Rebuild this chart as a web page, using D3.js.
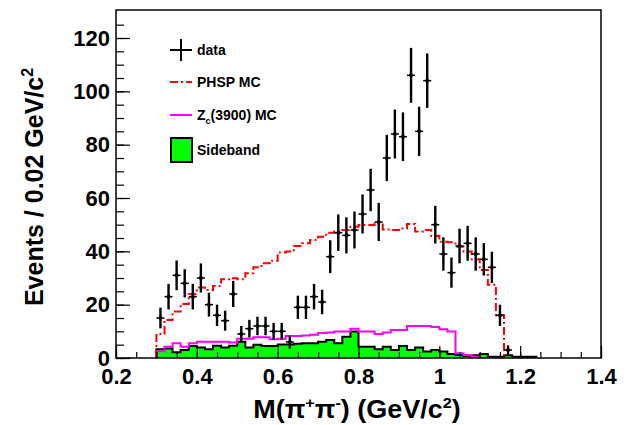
<!DOCTYPE html>
<html>
<head>
<meta charset="utf-8">
<script src="https://cdn.jsdelivr.net/npm/d3@7"></script>
<style>
  body { margin: 0; background: #fff; }
  svg { display: block; font-family: "Liberation Sans", Arial, sans-serif; }
</style>
</head>
<body>
<svg id="chart"></svg>
<script>
// binning (GeV/c^2)
const binWidth = 0.02;

// data points: bin centres and counts
const dataMass = [0.31, 0.33, 0.35, 0.37, 0.39, 0.41, 0.43, 0.45, 0.47, 0.49,
  0.51, 0.53, 0.55, 0.57, 0.59, 0.61, 0.63, 0.65, 0.67, 0.69,
  0.71, 0.73, 0.75, 0.77, 0.79, 0.81, 0.83, 0.85, 0.87, 0.89,
  0.91, 0.93, 0.95, 0.97, 0.99, 1.01, 1.03, 1.05, 1.07, 1.09,
  1.11, 1.13, 1.15, 1.17];
const dataCounts = [15, 23, 31, 28, 23, 30, 20, 16, 14, 24,
  9, 11, 12, 12, 10, 10, 6, 19, 19, 23,
  21, 38, 47, 46, 48, 54, 63, 51, 75, 84,
  83, 106, 85, 104, 50, 39, 32, 42, 43, 39,
  37, 34, 16, 3];

// PHSP MC histogram, first bin starts at 0.30
const phspStart = 0.30;
const phspMC = [9, 14.25, 17.4, 20.25, 24, 26.4, 25.5, 27, 29.5, 29.9,
  29.5, 31.75, 34, 35.5, 36.5, 39.6, 39.9, 42, 43, 44.25,
  45.5, 47, 47.4, 48, 49.25, 49.9, 49.9, 50.5, 48.2, 48,
  48.6, 50.25, 47.4, 48, 45.75, 43.6, 43.4, 41.75, 39.9, 37,
  33, 27.5, 16];

// Zc(3900) MC histogram
const zcStart = 0.30;
const zcMC = [2.5, 4.25, 5.5, 4.25, 5.5, 6.1, 6.1, 6.1, 6.1, 5.8,
  7.2, 7.2, 7.75, 7.75, 7, 7.2, 8.25, 8.25, 8.4, 8.7,
  9.4, 9.6, 9.9, 9.9, 11, 9.9, 9.9, 9, 9.6, 10.5,
  10.5, 12, 12, 12, 11.6, 10.75, 9.9, 1.8, 1.1, 0.5];

// sideband histogram
const sbStart = 0.30;
const sideband = [3.25, 3.6, 2.2, 3, 4.5, 3.9, 3.25, 4.6, 3.9, 4.6,
  6.1, 3.9, 5, 4.5, 4.5, 5.1, 5.1, 5.3, 5.5, 5.5,
  6.1, 6.75, 5.5, 8, 9.9, 4.25, 4.25, 3.25, 4.25, 3,
  4.5, 3, 3.9, 2.4, 3, 2.4, 1.5, 1.1, 0.75, 1,
  1.5, 0.5, 0.5, 1, 0.5, 0.5, 0.5];

const xTicks = [0.2, 0.4, 0.6, 0.8, 1.0, 1.2, 1.4];
const xTickLabels = ["0.2", "0.4", "0.6", "0.8", "1", "1.2", "1.4"];
const yTicks = [0, 20, 40, 60, 80, 100, 120];
const yTickLabels = ["0", "20", "40", "60", "80", "100", "120"];

const margin = { top: 10, right: 29, bottom: 67, left: 116 };
const W = 630, H = 425;
const width = W - margin.left - margin.right;
const height = H - margin.top - margin.bottom;

const x = d3.scaleLinear().domain([0.2, 1.4]).range([0, width]);
const y = d3.scaleLinear().domain([0, 130.5]).range([height, 0]);

const svg = d3.select("#chart").attr("width", W).attr("height", H);
const g = svg.append("g").attr("transform", "translate(" + margin.left + "," + margin.top + ")");

g.append("clipPath").attr("id", "clip")
  .append("rect").attr("width", width).attr("height", height);
const plot = g.append("g").attr("clip-path", "url(#clip)");

// turn a histogram into step points
function steps(start, vals) {
  const pts = [[start, 0]];
  vals.forEach(function(v, i) { pts.push([start + i * binWidth, v]); });
  const end = start + vals.length * binWidth;
  pts.push([end, vals[vals.length - 1]]);
  pts.push([end, 0]);
  return pts;
}

const stepLine = d3.line()
  .x(function(d) { return x(d[0]); })
  .y(function(d) { return y(d[1]); })
  .curve(d3.curveStepAfter);

const stepArea = d3.area()
  .x(function(d) { return x(d[0]); })
  .y0(y(0))
  .y1(function(d) { return y(d[1]); })
  .curve(d3.curveStepAfter);

// sideband
plot.append("path")
  .attr("d", stepArea(steps(sbStart, sideband)))
  .attr("fill", "#00ff00");
plot.append("path")
  .attr("d", stepLine(steps(sbStart, sideband)))
  .attr("fill", "none")
  .attr("stroke", "#000")
  .attr("stroke-width", 2);

// Zc MC
plot.append("path")
  .attr("d", stepLine(steps(zcStart, zcMC)))
  .attr("fill", "none")
  .attr("stroke", "#ff00ff")
  .attr("stroke-width", 2);

// PHSP MC
plot.append("path")
  .attr("d", stepLine(steps(phspStart, phspMC)))
  .attr("fill", "none")
  .attr("stroke", "#ff0000")
  .attr("stroke-width", 2)
  .attr("stroke-dasharray", "8,3,2,3");

// data with error bars
const pts = plot.selectAll(".pt")
  .data(dataMass.map(function(m, i) { return { m: m, n: dataCounts[i] }; }))
  .enter().append("g").attr("class", "pt");

pts.append("line")
  .attr("x1", function(d) { return x(d.m); })
  .attr("x2", function(d) { return x(d.m); })
  .attr("y1", function(d) { return y(d.n - Math.sqrt(d.n)); })
  .attr("y2", function(d) { return y(d.n + Math.sqrt(d.n)); })
  .attr("stroke", "#000").attr("stroke-width", 2.4);

pts.append("line")
  .attr("x1", function(d) { return x(d.m - binWidth / 2); })
  .attr("x2", function(d) { return x(d.m + binWidth / 2); })
  .attr("y1", function(d) { return y(d.n); })
  .attr("y2", function(d) { return y(d.n); })
  .attr("stroke", "#000").attr("stroke-width", 1.5);

pts.append("circle")
  .attr("cx", function(d) { return x(d.m); })
  .attr("cy", function(d) { return y(d.n); })
  .attr("r", 2)
  .attr("fill", "#000");

// axes, ticks inside the frame
const xMinor = d3.range(0.2, 1.4001, 0.05);
const yMinor = d3.range(0, 130, 5);

g.append("g")
  .attr("transform", "translate(0," + height + ")")
  .call(d3.axisBottom(x).tickValues(xMinor).tickSize(-6).tickFormat(""))
  .call(function(a) { a.select(".domain").remove(); });

g.append("g")
  .attr("class", "x axis")
  .attr("transform", "translate(0," + height + ")")
  .call(d3.axisBottom(x).tickValues(xTicks).tickSize(-12).tickPadding(10)
    .tickFormat(function(d, i) { return xTickLabels[i]; }))
  .call(function(a) { a.select(".domain").remove(); });

g.append("g")
  .call(d3.axisLeft(y).tickValues(yMinor).tickSize(-8).tickFormat(""))
  .call(function(a) { a.select(".domain").remove(); });

g.append("g")
  .attr("class", "y axis")
  .call(d3.axisLeft(y).tickValues(yTicks).tickSize(-14).tickPadding(6)
    .tickFormat(function(d, i) { return yTickLabels[i]; }))
  .call(function(a) { a.select(".domain").remove(); });

g.selectAll(".tick line").attr("stroke", "#000").attr("stroke-width", 1.2);
g.selectAll(".axis text")
  .attr("fill", "#000")
  .style("font-family", "'Liberation Sans', Arial, sans-serif")
  .style("font-size", "22px")
  .style("font-weight", "bold");

// frame
g.append("rect")
  .attr("width", width).attr("height", height)
  .attr("fill", "none").attr("stroke", "#000").attr("stroke-width", 1.5);

// axis titles
svg.append("text")
  .attr("transform", "translate(357,418) scale(1.08,1)")
  .attr("text-anchor", "middle")
  .style("font-size", "25px")
  .style("font-weight", "bold")
  .html('M(&#960;<tspan dy="-10" font-size="15">+</tspan><tspan dy="10">&#960;</tspan><tspan dy="-10" font-size="15">-</tspan><tspan dy="10">) (GeV/c</tspan><tspan dy="-10" font-size="15">2</tspan><tspan dy="10">)</tspan>');

svg.append("text")
  .attr("transform", "translate(43,187) rotate(-90)")
  .attr("text-anchor", "middle")
  .style("font-size", "25px")
  .style("font-weight", "bold")
  .html('Events / 0.02 GeV/c<tspan dy="-10" font-size="16">2</tspan>');

// legend
const lg = svg.append("g").style("font-size", "14px").style("font-weight", "bold");
const lx = 170, lw = 22, tx = 197;
const rows = [50, 82, 115, 150];

lg.append("line").attr("x1", lx).attr("x2", lx + lw).attr("y1", rows[0]).attr("y2", rows[0])
  .attr("stroke", "#000").attr("stroke-width", 2);
lg.append("line").attr("x1", lx + lw / 2).attr("x2", lx + lw / 2).attr("y1", rows[0] - 11).attr("y2", rows[0] + 11)
  .attr("stroke", "#000").attr("stroke-width", 2);
lg.append("text").attr("x", tx).attr("y", rows[0] + 5).text("data");

lg.append("line").attr("x1", lx).attr("x2", lx + lw).attr("y1", rows[1]).attr("y2", rows[1])
  .attr("stroke", "#ff0000").attr("stroke-width", 2).attr("stroke-dasharray", "8,3,2,3");
lg.append("text").attr("x", tx).attr("y", rows[1] + 5).text("PHSP MC");

lg.append("line").attr("x1", lx).attr("x2", lx + lw).attr("y1", rows[2]).attr("y2", rows[2])
  .attr("stroke", "#ff00ff").attr("stroke-width", 2);
lg.append("text").attr("x", tx).attr("y", rows[2] + 5)
  .html('Z<tspan dy="4" font-size="9">c</tspan><tspan dy="-4">(3900) MC</tspan>');

lg.append("rect").attr("x", lx + 1).attr("y", rows[3] - 12).attr("width", 21).attr("height", 24)
  .attr("fill", "#00ff00").attr("stroke", "#000").attr("stroke-width", 2);
lg.append("text").attr("x", tx).attr("y", rows[3] + 5).text("Sideband");
</script>
</body>
</html>
